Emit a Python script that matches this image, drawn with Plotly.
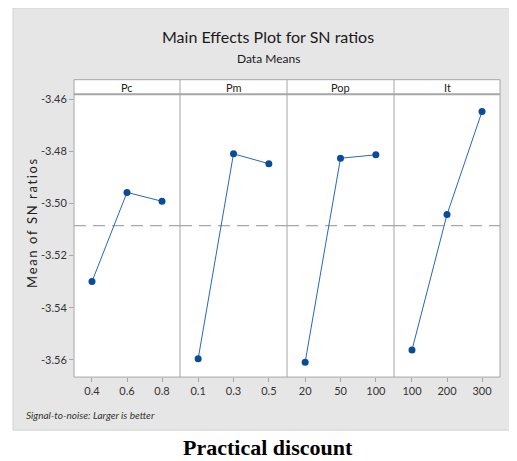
import plotly.graph_objects as go

OFF = 8  # browser body margin
W, H = 517 - OFF, 461 - OFF

factors = ["Pc", "Pm", "Pop", "It"]
levels = {
    "Pc": ["0.4", "0.6", "0.8"],
    "Pm": ["0.1", "0.3", "0.5"],
    "Pop": ["20", "50", "100"],
    "It": ["100", "200", "300"],
}
sn_means = {
    "Pc": [-3.5300, -3.4958, -3.4992],
    "Pm": [-3.5596, -3.4810, -3.4848],
    "Pop": [-3.5609, -3.4827, -3.4814],
    "It": [-3.5562, -3.5043, -3.4648],
}
overall_mean = -3.5085
y_ticks = [-3.46, -3.48, -3.50, -3.52, -3.54, -3.56]
y_tick_labels = ["-3.46", "-3.48", "-3.50", "-3.52", "-3.54", "-3.56"]

# pixel geometry helpers (coordinates given in window pixels)
def px(x):
    return (x - OFF) / W

def py(y):
    return (H - (y - OFF)) / H

left, right = 74, 500
top, bottom = 92.7, 376.7
strip_top = 78
bounds = [74, 180, 287, 394, 500]

fig = go.Figure()

marker_color = "#0a4c9c"
line_color = "#2a66b8"
frame_color = "#a6a6a6"
font = "Lato"

shapes = []
shapes.append(dict(type="rect", xref="paper", yref="paper",
                   x0=px(13), x1=px(530), y0=py(430), y1=py(6),
                   fillcolor="#e6e6e6", line=dict(color="#d2d2d2", width=1), layer="below"))
shapes.append(dict(type="rect", xref="paper", yref="paper",
                   x0=px(left), x1=px(right), y0=py(bottom), y1=py(strip_top),
                   fillcolor="white", line=dict(color=frame_color, width=1), layer="below"))
shapes.append(dict(type="line", xref="paper", yref="paper",
                   x0=px(left), x1=px(right), y0=py(top), y1=py(top),
                   line=dict(color=frame_color, width=2), layer="above"))
for b in bounds[1:-1]:
    shapes.append(dict(type="line", xref="paper", yref="paper",
                       x0=px(b), x1=px(b), y0=py(bottom), y1=py(strip_top),
                       line=dict(color=frame_color, width=1), layer="above"))

annotations = []
for i, f in enumerate(factors):
    xa = "x" if i == 0 else f"x{i+1}"
    fig.add_trace(go.Scatter(
        x=[0, 1, 2], y=sn_means[f], xaxis=xa, yaxis="y",
        mode="lines+markers",
        line=dict(color=line_color, width=1),
        marker=dict(color=marker_color, size=7),
        showlegend=False, hoverinfo="skip"))
    key = "xaxis" if i == 0 else f"xaxis{i+1}"
    fig.layout[key] = dict(
        domain=[px(bounds[i]), px(bounds[i + 1])],
        anchor="y", range=[-0.514, 2.514],
        tickvals=[0, 1, 2], ticktext=levels[f],
        showgrid=False, zeroline=False, showline=False,
        ticks="outside", ticklen=4, tickcolor=frame_color,
        tickfont=dict(family=font, size=11, color="#333333"),
        fixedrange=True)
    annotations.append(dict(xref="paper", yref="paper",
                            x=px((bounds[i] + bounds[i + 1]) / 2), y=py(85.5),
                            text=f, showarrow=False,
                            font=dict(family=font, size=11, color="#222222"),
                            xanchor="center", yanchor="middle"))
    shapes.append(dict(type="line", xref=f"{xa} domain", yref="y",
                       x0=0, x1=1, y0=overall_mean, y1=overall_mean,
                       line=dict(color="#a8a8a8", width=1.2, dash="12px,7px"),
                       layer="below"))

fig.update_layout(
    width=W, height=H,
    margin=dict(l=0, r=0, t=0, b=0),
    paper_bgcolor="white", plot_bgcolor="rgba(0,0,0,0)",
    yaxis=dict(domain=[py(bottom), py(top)], anchor="x",
               range=[-3.5666, -3.4582],
               tickvals=y_ticks, ticktext=y_tick_labels,
               showgrid=False, zeroline=False, showline=False,
               ticks="outside", ticklen=4, tickcolor=frame_color,
               tickfont=dict(family=font, size=11, color="#333333"),
               fixedrange=True),
    shapes=shapes,
)

ylabel = "\u2002".join("\u2009".join(list(w)) for w in ["Mean", "of", "SN", "ratios"])

annotations += [
    dict(xref="paper", yref="paper", x=px(268), y=py(35),
         text="Main Effects Plot for SN ratios", showarrow=False,
         font=dict(family=font, size=16, color="#1a1a1a"),
         xanchor="center", yanchor="middle"),
    dict(xref="paper", yref="paper", x=px(268), y=py(57),
         text="Data Means", showarrow=False,
         font=dict(family=font, size=12, color="#1a1a1a"),
         xanchor="center", yanchor="middle"),
    dict(xref="paper", yref="paper", x=px(32), y=py(222),
         text=ylabel, textangle=-90,
         showarrow=False, font=dict(family=font, size=13, color="#222222"),
         xanchor="center", yanchor="middle"),
    dict(xref="paper", yref="paper", x=px(24), y=py(415),
         text="<i>Signal-to-noise: Larger is better</i>", showarrow=False,
         font=dict(family=font, size=10, color="#333333"),
         xanchor="left", yanchor="middle"),
    dict(xref="paper", yref="paper", x=px(268), y=py(447),
         text="<b>Practical discount</b>", showarrow=False,
         font=dict(family="Liberation Serif", size=22, color="black"),
         xanchor="center", yanchor="middle"),
]
fig.update_layout(annotations=annotations)

fig.write_html("out.html")
